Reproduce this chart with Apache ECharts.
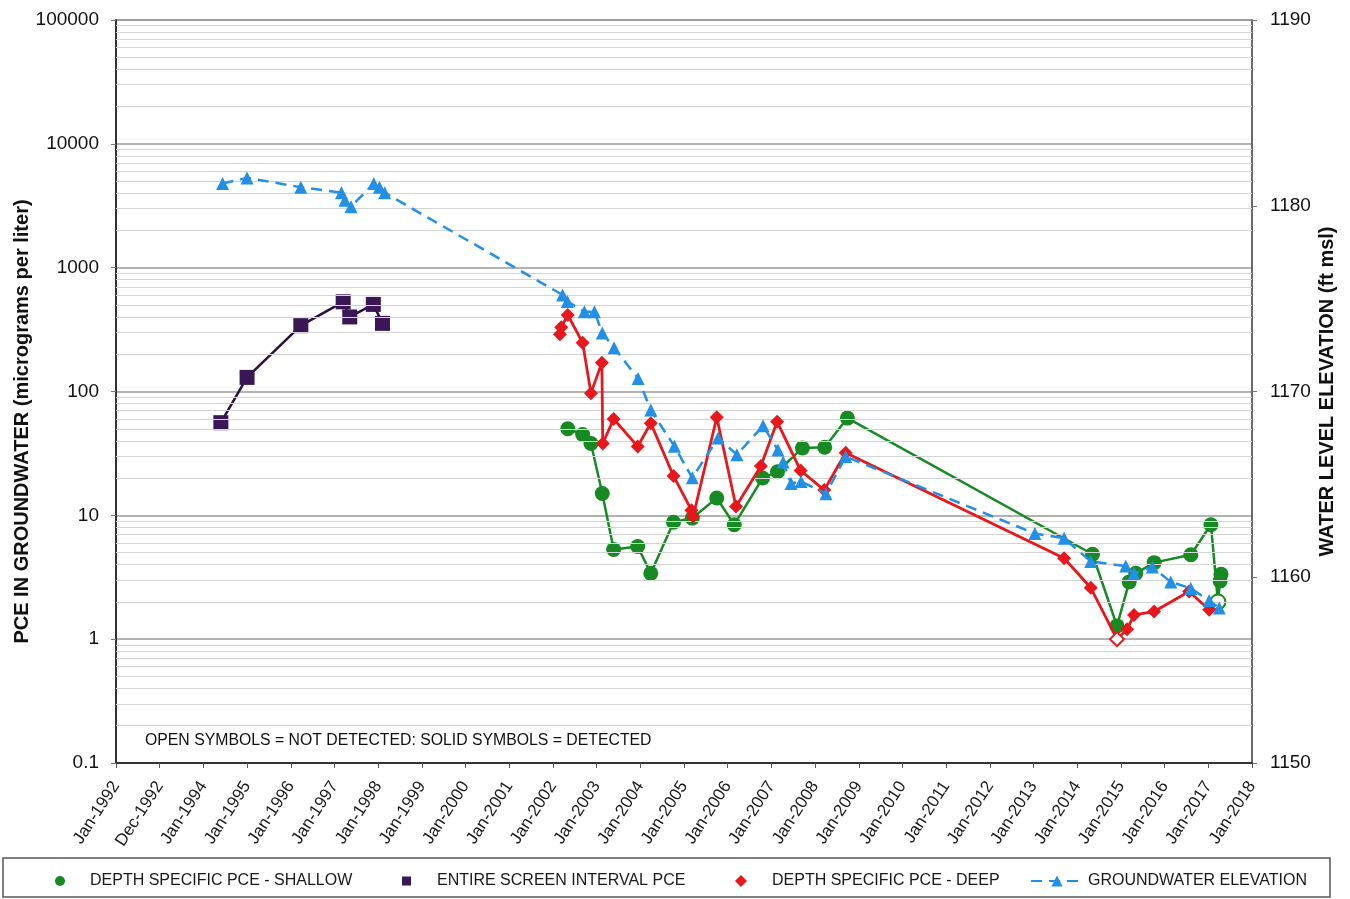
<!DOCTYPE html>
<html>
<head>
<meta charset="utf-8">
<script src="https://cdn.jsdelivr.net/npm/echarts@6/dist/echarts.min.js"></script>
<style>
  html, body { margin: 0; padding: 0; background: #ffffff; }
  #chart { width: 1350px; height: 899px; }
</style>
</head>
<body>
<div id="chart"></div>
<script>
// Sample dates are decimal years; PCE in micrograms per liter, elevation in ft msl.
const xTickLabels = ['Jan-1992', 'Dec-1992', 'Jan-1994', 'Jan-1995', 'Jan-1996', 'Jan-1997', 'Jan-1998',
  'Jan-1999', 'Jan-2000', 'Jan-2001', 'Jan-2002', 'Jan-2003', 'Jan-2004', 'Jan-2005', 'Jan-2006',
  'Jan-2007', 'Jan-2008', 'Jan-2009', 'Jan-2010', 'Jan-2011', 'Jan-2012', 'Jan-2013', 'Jan-2014',
  'Jan-2015', 'Jan-2016', 'Jan-2017', 'Jan-2018'];
const pceTickLabels = ['0.1', '1', '10', '100', '1000', '10000', '100000'];
const elevTickLabels = ['1150', '1160', '1170', '1180', '1190'];

// Depth specific PCE - shallow
const shallowDates = [2002.34, 2002.68, 2002.87, 2003.13, 2003.39, 2003.94, 2004.24, 2004.76, 2005.19,
  2005.75, 2006.15, 2006.80, 2007.14, 2007.71, 2008.22, 2008.74, 2014.35, 2014.91, 2015.19, 2015.34,
  2015.76, 2016.60, 2017.06, 2017.22, 2017.27, 2017.29];
const shallowPce = [50, 45, 38, 15, 5.3, 5.6, 3.4, 8.8, 9.5, 13.8, 8.4, 20, 22.5, 35, 35.5, 61, 4.85,
  1.28, 2.9, 3.4, 4.15, 4.8, 8.4, 2.0, 2.95, 3.35];
const shallowNotDetected = [23];

// Entire screen interval PCE
const entireDates = [1994.40, 1995.00, 1996.23, 1997.20, 1997.35, 1997.89, 1998.10];
const entirePce = [56, 130, 340, 530, 400, 505, 355];

// Depth specific PCE - deep
const deepDates = [2002.16, 2002.19, 2002.34, 2002.68, 2002.87, 2003.12, 2003.14, 2003.39, 2003.94,
  2004.24, 2004.76, 2005.17, 2005.21, 2005.75, 2006.19, 2006.76, 2007.13, 2007.67, 2008.21, 2008.70,
  2013.70, 2014.31, 2014.91, 2015.14, 2015.30, 2015.76, 2016.56, 2017.02];
const deepPce = [290, 330, 415, 248, 97, 171, 38, 60, 36, 55.5, 20.8, 11, 9.8, 62, 11.8, 25, 57, 23,
  16, 32, 4.5, 2.6, 1.0, 1.2, 1.57, 1.67, 2.43, 1.73];
const deepNotDetected = [22];

// Groundwater elevation
const gwDates = [1994.44, 1995.00, 1996.23, 1997.16, 1997.24, 1997.38, 1997.90, 1998.03, 1998.15,
  2002.22, 2002.33, 2002.72, 2002.95, 2003.13, 2003.40, 2003.95, 2004.24, 2004.78, 2005.19, 2005.78,
  2006.21, 2006.81, 2007.15, 2007.27, 2007.45, 2007.68, 2008.25, 2008.70, 2013.03, 2013.70, 2014.31,
  2015.11, 2015.30, 2015.72, 2016.14, 2016.60, 2017.02, 2017.25];
const gwElev = [1181.2, 1181.5, 1181.0, 1180.7, 1180.3, 1179.95, 1181.2, 1181.0, 1180.7, 1175.2,
  1174.85, 1174.3, 1174.3, 1173.15, 1172.35, 1170.7, 1169.0, 1167.05, 1165.35, 1167.5, 1166.6,
  1168.15, 1166.85, 1166.2, 1165.05, 1165.15, 1164.5, 1166.5, 1162.35, 1162.1, 1160.85, 1160.6,
  1160.2, 1160.55, 1159.75, 1159.4, 1158.75, 1158.35];

const FONT = '"Liberation Sans", Arial, sans-serif';
const GREEN = '#178a24';
const PURPLE = '#3a1654';
const RED = '#e8171c';
const BLUE = '#2290e6';

function points(dates, values, openIdx, color) {
  return dates.map(function (d, i) {
    if (openIdx && openIdx.indexOf(i) >= 0) {
      return { value: [d, values[i]], itemStyle: { color: '#ffffff', borderColor: color, borderWidth: 2 } };
    }
    return [d, values[i]];
  });
}

// light gridlines at 2..9 of every decade on the log axis
const minorGrid = [];
for (let e = -1; e < 5; e++) {
  for (let m = 2; m <= 9; m++) {
    minorGrid.push({ yAxis: m * Math.pow(10, e) });
  }
}

const chart = echarts.init(document.getElementById('chart'), null, { renderer: 'canvas' });

function legendEntry(name, icon, left, size, textShift, width) {
  return {
    top: 873,
    left: left,
    padding: 0,
    itemGap: 0,
    selectedMode: false,
    itemWidth: width || size,
    itemHeight: size,
    textStyle: { fontFamily: FONT, fontSize: 16, color: '#1a1a1a', padding: [0, 0, 0, textShift] },
    data: [icon ? { name: name, icon: icon } : { name: name }]
  };
}

chart.setOption({
  animation: false,
  backgroundColor: '#ffffff',
  textStyle: { fontFamily: FONT },
  grid: {
    left: 116, right: 98, top: 20, bottom: 136,
    containLabel: false,
    outerBoundsMode: 'none',
    show: true, borderColor: '#555555', borderWidth: 1, backgroundColor: 'transparent'
  },
  xAxis: {
    type: 'value',
    min: 1992,
    max: 2018,
    interval: 1,
    axisLine: { onZero: false, lineStyle: { color: '#333333', width: 2 } },
    axisTick: { show: true, length: 5, lineStyle: { color: '#555555' } },
    splitLine: { show: false },
    axisLabel: {
      rotate: 57,
      margin: 20,
      fontSize: 17,
      color: '#1a1a1a',
      fontFamily: FONT,
      formatter: function (v) { return xTickLabels[Math.round(v - 1992)] || ''; }
    }
  },
  yAxis: [
    {
      type: 'log',
      logBase: 10,
      min: 0.1,
      max: 100000,
      splitNumber: 6,
      name: 'PCE IN GROUNDWATER (micrograms per liter)',
      nameLocation: 'middle',
      nameRotate: 90,
      nameGap: 84,
      nameMoveOverlap: false,
      nameTextStyle: { fontFamily: FONT, fontSize: 20, fontWeight: 'bold', color: '#111111', padding: [0, 60, 0, 0] },
      axisLine: { show: true, lineStyle: { color: '#333333', width: 2 } },
      axisTick: { show: true, length: 5, lineStyle: { color: '#777777' } },
      splitLine: { show: true, lineStyle: { color: '#9a9a9a', width: 1.5 } },
      minorTick: { show: false },
      axisLabel: {
        margin: 17,
        fontSize: 19,
        color: '#111111',
        fontFamily: FONT,
        formatter: function (v) { return pceTickLabels[Math.round(Math.log10(v)) + 1] || ''; }
      }
    },
    {
      type: 'value',
      position: 'right',
      min: 1150,
      max: 1190,
      interval: 10,
      name: 'WATER LEVEL ELEVATION (ft msl)',
      nameLocation: 'middle',
      nameRotate: 90,
      nameGap: 65,
      nameMoveOverlap: false,
      nameTextStyle: { fontFamily: FONT, fontSize: 20, fontWeight: 'bold', color: '#111111' },
      axisLine: { show: true, lineStyle: { color: '#555555', width: 1.5 } },
      axisTick: { show: true, length: 5, lineStyle: { color: '#777777' } },
      splitLine: { show: false },
      axisLabel: {
        margin: 18,
        fontSize: 19,
        color: '#111111',
        fontFamily: FONT,
        formatter: function (v) { return elevTickLabels[Math.round((v - 1150) / 10)] || ''; }
      }
    }
  ],
  legend: [
    legendEntry('DEPTH SPECIFIC PCE - SHALLOW', 'circle', 55, 10, 20),
    legendEntry('ENTIRE SCREEN INTERVAL PCE', 'rect', 402, 9, 21),
    legendEntry('DEPTH SPECIFIC PCE - DEEP', 'diamond', 735, 12, 20),
    legendEntry('GROUNDWATER ELEVATION', null, 1030, 14, 0, 52)
  ],
  graphic: [
    {
      type: 'rect',
      silent: true,
      shape: { x: 3, y: 858, width: 1327, height: 39 },
      style: { fill: 'none', stroke: '#555555', lineWidth: 1.5 }
    },
    {
      type: 'text',
      silent: true,
      left: 145,
      top: 733,
      style: {
        text: 'OPEN SYMBOLS = NOT DETECTED: SOLID SYMBOLS = DETECTED',
        fontFamily: FONT,
        fontSize: 15.8,
        fill: '#111111'
      }
    }
  ],
  series: [
    {
      name: 'log grid',
      type: 'line',
      yAxisIndex: 0,
      data: [],
      silent: true,
      z: 1,
      markLine: {
        silent: true,
        symbol: 'none',
        label: { show: false },
        lineStyle: { color: '#d4d4d4', width: 1.2, type: 'solid' },
        data: minorGrid
      }
    },
    {
      name: 'DEPTH SPECIFIC PCE - SHALLOW',
      type: 'line',
      yAxisIndex: 0,
      z: 3,
      symbol: 'circle',
      symbolSize: 15,
      color: GREEN,
      lineStyle: { color: GREEN, width: 2.5 },
      itemStyle: { color: GREEN },
      data: points(shallowDates, shallowPce, shallowNotDetected, GREEN)
    },
    {
      name: 'ENTIRE SCREEN INTERVAL PCE',
      type: 'line',
      yAxisIndex: 0,
      z: 4,
      symbol: 'rect',
      symbolSize: 15,
      color: PURPLE,
      lineStyle: { color: '#2a1040', width: 2.5 },
      itemStyle: { color: PURPLE },
      data: points(entireDates, entirePce, null, PURPLE)
    },
    {
      name: 'DEPTH SPECIFIC PCE - DEEP',
      type: 'line',
      yAxisIndex: 0,
      z: 5,
      symbol: 'diamond',
      symbolSize: 14,
      color: RED,
      lineStyle: { color: RED, width: 2.8 },
      itemStyle: { color: RED },
      data: points(deepDates, deepPce, deepNotDetected, RED)
    },
    {
      name: 'GROUNDWATER ELEVATION',
      type: 'line',
      yAxisIndex: 1,
      z: 6,
      symbol: 'triangle',
      symbolSize: 13,
      color: BLUE,
      lineStyle: { color: BLUE, width: 2.5, type: [11, 7] },
      itemStyle: { color: BLUE },
      data: points(gwDates, gwElev, null, BLUE)
    }
  ]
});
</script>
</body>
</html>
